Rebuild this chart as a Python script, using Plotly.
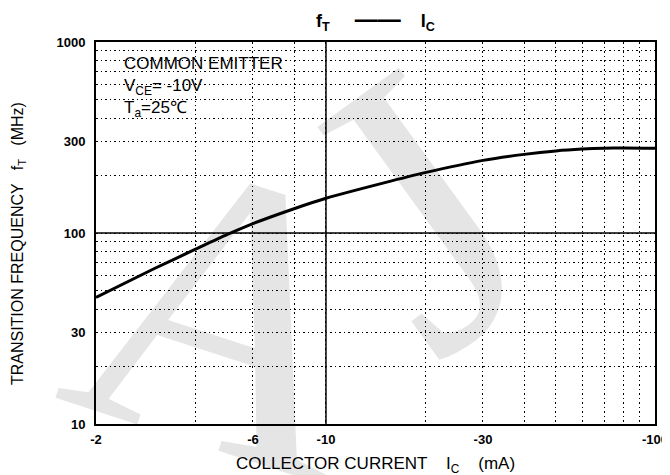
import plotly.graph_objects as go

# ---- data ----
ic_ma = [2, 3, 4, 5, 6, 8, 10, 15, 20, 30, 40, 50, 60, 70, 80, 100]          # |Ic| in mA
ft_mhz = [46, 65, 82, 98, 112, 134, 152, 183, 207, 240, 258, 269, 275, 278, 279, 278]

x_tick_vals = [2, 6, 10, 30, 100]
x_tick_text = ["-2", "-6", "-10", "-30", "-100"]
x_minor_vals = [4, 8, 20, 40, 50, 60, 70, 80, 90]
x_solid = 10

y_tick_vals = [10, 30, 100, 300, 1000]
y_tick_text = ["10", "30", "100", "300", "1000"]
y_minor_vals = [20, 40, 50, 60, 70, 80, 90, 200, 400, 500, 600, 700, 800, 900]
y_solid = 100

FONT = "Liberation Sans, Arial, sans-serif"
DOT = "1.5px,3px"

fig = go.Figure()
fig.add_trace(go.Scatter(x=ic_ma, y=ft_mhz, mode="lines",
                         line=dict(color="black", width=3, shape="spline", smoothing=0.6),
                         showlegend=False, hoverinfo="skip"))

fig.add_vline(x=x_solid, line=dict(color="black", width=1.5))
fig.add_hline(y=y_solid, line=dict(color="black", width=1.5))

# white background behind the conditions text (hides the grid there)
fig.add_shape(type="rect", xref="paper", yref="paper", x0=0, x1=0.377, y0=0.762, y1=1,
              fillcolor="white", line=dict(width=0), layer="between")

common = dict(showline=True, linecolor="black", linewidth=2, mirror=True, ticks="",
              zeroline=False, automargin=False,
              showgrid=True, gridcolor="black", griddash=DOT, gridwidth=1,
              tickfont=dict(family=FONT, size=13, color="black", weight="bold"))

fig.update_xaxes(type="log", range=[0.30103, 2], tickvals=x_tick_vals, ticktext=x_tick_text,
                 ticklabelstandoff=2,
                 minor=dict(tickvals=x_minor_vals, showgrid=True, gridcolor="black",
                            griddash=DOT, gridwidth=1, ticks=""),
                 **common)
fig.update_yaxes(type="log", range=[1, 3], tickvals=y_tick_vals, ticktext=y_tick_text,
                 ticklabelstandoff=6,
                 minor=dict(tickvals=y_minor_vals, showgrid=True, gridcolor="black",
                            griddash=DOT, gridwidth=1, ticks=""),
                 **common)

WM = "rgba(0,0,0,0.10)"
annotations = [
    # watermark
    dict(text="A", x=0.2415, y=0.288, xref="paper", yref="paper", showarrow=False,
         xanchor="center", yanchor="middle",
         font=dict(family="Liberation Serif, serif", size=400, color=WM), textangle=18),
    dict(text="J", x=0.576, y=0.555, xref="paper", yref="paper", showarrow=False,
         xanchor="center", yanchor="middle",
         font=dict(family="Liberation Serif, serif", size=400, color=WM), textangle=-36),
    # conditions text
    dict(text="COMMON EMITTER<br>V<sub>CE</sub>= -10V<br>T<sub>a</sub>=25℃",
         x=0.048, y=0.971, xref="paper", yref="paper", xanchor="left", yanchor="top",
         showarrow=False, align="left", borderpad=0,
         font=dict(family=FONT, size=17, color="black")),
    # axis titles
    dict(text="COLLECTOR CURRENT    I<sub>C</sub>    (mA)",
         x=0.5, y=-0.108, xref="paper", yref="paper", xanchor="center", yanchor="middle",
         showarrow=False, font=dict(family=FONT, size=17, color="black")),
    dict(text="TRANSITION FREQUENCY   f<sub>T</sub>   (MHz)",
         x=-0.1395, y=0.471, xref="paper", yref="paper", xanchor="center", yanchor="middle",
         textangle=-90, showarrow=False, font=dict(family=FONT, size=16, color="black")),
]

# the page body adds an 8px offset, so the figure is 8px smaller than the window
fig.update_layout(
    width=662, height=467,
    margin=dict(l=88, r=15, t=34, b=51, autoexpand=False),
    paper_bgcolor="white", plot_bgcolor="white",
    title=dict(text="<b>f<sub>T</sub>     <span style=\"font-size:23px\">——</span>    I<sub>C</sub></b>",
               x=0.5, xref="paper", xanchor="center",
               y=0.972, yref="container", yanchor="middle",
               font=dict(family=FONT, size=18, color="black")),
    annotations=annotations,
    showlegend=False,
)

fig.write_html("out.html")
